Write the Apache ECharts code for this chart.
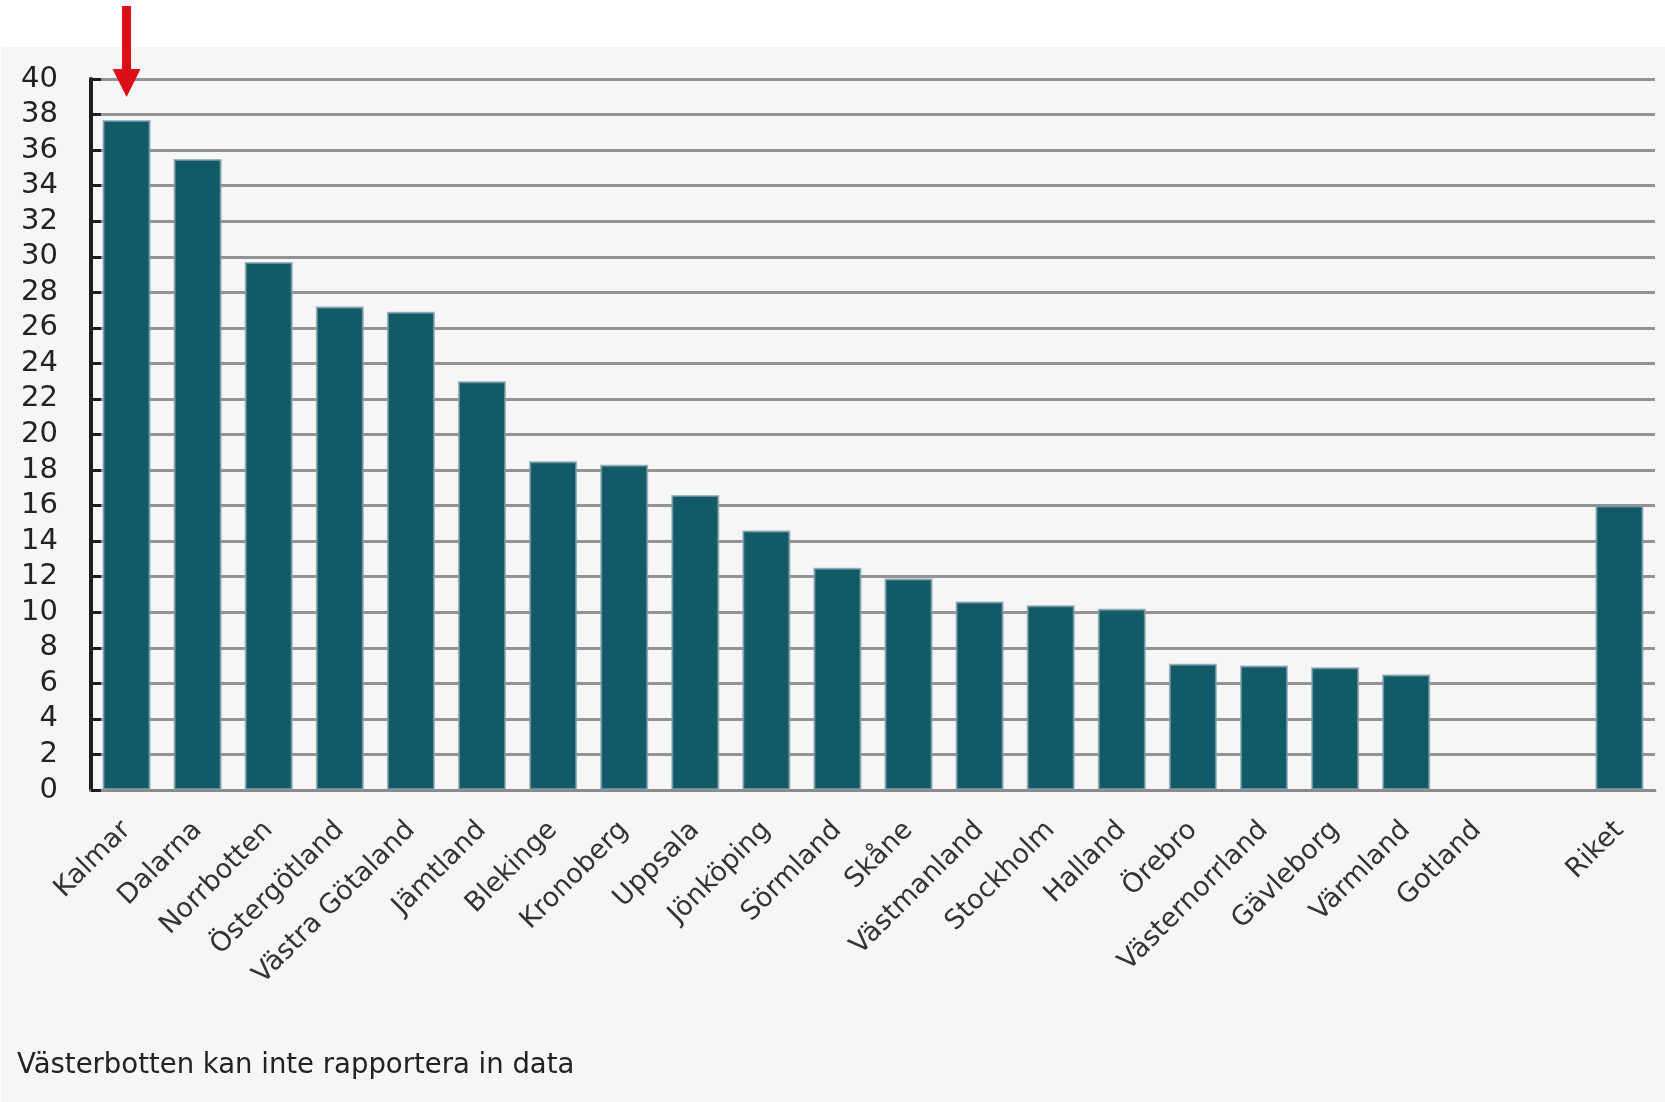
<!DOCTYPE html>
<html>
<head>
<meta charset="utf-8">
<script src="https://cdn.jsdelivr.net/npm/echarts@6/dist/echarts.min.js"></script>
<style>
html,body{margin:0;padding:0;background:#ffffff;}
#chart{width:1665px;height:1102px;}
</style>
</head>
<body>
<div id="chart"></div>
<script>
const categories = ["Kalmar","Dalarna","Norrbotten","Östergötland","Västra Götaland","Jämtland","Blekinge","Kronoberg","Uppsala","Jönköping","Sörmland","Skåne","Västmanland","Stockholm","Halland","Örebro","Västernorrland","Gävleborg","Värmland","Gotland","","Riket"];
const values = [37.7,35.5,29.7,27.2,26.9,23.0,18.5,18.3,16.6,14.6,12.5,11.9,10.6,10.4,10.2,7.1,7.0,6.9,6.5,null,null,16.0];
const yTicks = [0,2,4,6,8,10,12,14,16,18,20,22,24,26,28,30,32,34,36,38,40];
const footnote = "Västerbotten kan inte rapportera in data";
const highlighted = "Kalmar";

const chart = echarts.init(document.getElementById('chart'));
const FONT = 'DejaVu Sans';
const baseGraphic = [
  {type: 'rect', z: -10, shape: {x: 1, y: 47, width: 1664, height: 1055}, style: {fill: '#f6f6f6'}, silent: true},
  {type: 'text', left: 17, top: 1052, z: 10,
   style: {text: footnote, fontFamily: FONT, fontSize: 27.5, fill: '#222222'}}
];
chart.setOption({
  animation: false,
  backgroundColor: '#ffffff',
  grid: {left: 91, right: 10, top: 79, bottom: 312, containLabel: false},
  xAxis: {
    type: 'category',
    data: categories,
    axisLine: {show: true, lineStyle: {color: '#8a8a8e', width: 3}},
    axisTick: {show: false},
    axisLabel: {
      interval: 0, rotate: 45, margin: 36,
      fontFamily: FONT, fontSize: 27, color: '#333333'
    },
    splitLine: {show: false}
  },
  yAxis: {
    type: 'value',
    min: yTicks[0], max: yTicks[yTicks.length-1], interval: 2,
    axisLine: {show: true, lineStyle: {color: '#1e1e1e', width: 4}},
    axisTick: {show: true, inside: true, length: 10, lineStyle: {color: '#1e1e1e', width: 3}},
    axisLabel: {margin: 33, fontFamily: FONT, fontSize: 29, color: '#222222'},
    splitLine: {show: true, lineStyle: {color: '#939396', width: 3}}
  },
  graphic: baseGraphic,
  series: [{
    type: 'bar',
    data: values,
    barWidth: 48,
    itemStyle: {color: '#135a68', borderColor: 'rgba(130,160,170,0.75)', borderWidth: 2},
    z: 3
  }]
});

// red arrow above the highlighted category
const px = chart.convertToPixel({xAxisIndex: 0}, highlighted);
chart.setOption({
  graphic: baseGraphic.concat([
    {type: 'rect', z: 20, shape: {x: px - 4.5, y: 6, width: 9, height: 64}, style: {fill: '#dc0f17'}},
    {type: 'polygon', z: 20, shape: {points: [[px - 14, 69], [px + 14, 69], [px, 97]]}, style: {fill: '#dc0f17'}}
  ])
});
</script>
</body>
</html>
